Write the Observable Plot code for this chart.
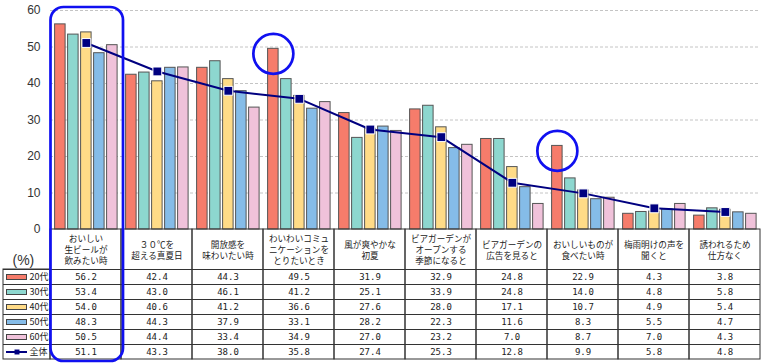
<!DOCTYPE html>
<html><head><meta charset="utf-8">
<script src="https://cdn.jsdelivr.net/npm/d3@7"></script>
<script src="https://cdn.jsdelivr.net/npm/@observablehq/plot@0.6"></script>
<style>body{margin:0;background:#fff} #chart{width:764px;height:364px}</style>
</head><body><div id="chart"></div>
<script>
const categories = ["おいしい\n生ビールが\n飲みたい時", "３０℃を\n超える真夏日", "開放感を\n味わいたい時", "わいわいコミュ\nニケーションを\nとりたいとき", "風が爽やかな\n初夏", "ビアガーデンが\nオープンする\n季節になると", "ビアガーデンの\n広告を見ると", "おいしいものが\n食べたい時", "梅雨明けの声を\n聞くと", "誘われるため\n仕方なく"];
const seriesNames = ["20代","30代","40代","50代","60代"];
const v20 = [56.2,42.4,44.3,49.5,31.9,32.9,24.8,22.9,4.3,3.8];
const v30 = [53.4,43.0,46.1,41.2,25.1,33.9,24.8,14.0,4.8,5.8];
const v40 = [54.0,40.6,41.2,36.6,27.6,28.0,17.1,10.7,4.9,5.4];
const v50 = [48.3,44.3,37.9,33.1,28.2,22.3,11.6,8.3,5.5,4.7];
const v60 = [50.5,44.4,33.4,34.9,27.0,23.2,7.0,8.7,7.0,4.3];
const vAll = [51.1,43.3,38.0,35.8,27.4,25.3,12.8,9.9,5.8,4.8];
const totalName = "全体";
const yTicks = [0,10,20,30,40,50,60];
const highlightColumn = 0;
const highlightBars = [[3,0],[7,0]]; // [category index, series index]

const colors = ["#f67c6b","#8dd7cf","#ffdb87","#85bce8","#f0c2da"];
const navy = "#000080", blue = "#1010f0";
const seriesValues = [v20,v30,v40,v50,v60];
const BW = 71, barW = 10.5, step = 13, off = 4.6;
const rows = (vals) => categories.map((c,j)=>({c, v: vals[j]}));
const zero = () => 0;

const marks = [];
marks.push(Plot.ruleY(yTicks.filter(t=>t>0), {stroke:"#c4c4c4", strokeDasharray:"3,2"}));
seriesValues.forEach((vals,i)=>{
  marks.push(Plot.barY(rows(vals), {x:"c", y:"v", fill: colors[i], stroke:"#555", strokeWidth:1,
    insetLeft: off+step*i, insetRight: BW-off-step*i-barW}));
});
const lineDx = off + 2*step + barW/2 - BW/2;
marks.push(Plot.line(rows(vAll), {x:"c", y:"v", stroke:navy, strokeWidth:2, dx: lineDx}));
marks.push(Plot.dot(rows(vAll), {x:"c", y:"v", symbol:"square", r:5, fill:navy, stroke:"#fff", strokeWidth:1, dx: lineDx}));

// table grid
marks.push(Plot.barY(categories, {x:d=>d, y1:zero, y2:zero, insetBottom:-130, fill:"none", stroke:"#333"}));
marks.push(Plot.barY([categories[0]], {x:d=>d, y1:zero, y2:zero, insetTop:40, insetBottom:-130, insetLeft:-47, insetRight:BW, fill:"none", stroke:"#333"}));
[40,55,70,85,100,115].forEach(dy=>marks.push(Plot.ruleY([0], {dy, stroke:"#333", insetLeft:-47})));
// header text
marks.push(Plot.text(categories, {x:d=>d, y:zero, text:d=>d, dy:20, fontSize:8.6, lineHeight:1.3, fill:"#222", fontFamily:"Noto Sans CJK JP"}));
// values
seriesValues.concat([vAll]).forEach((vals,i)=>{
  marks.push(Plot.text(rows(vals), {x:"c", y:zero, text:d=>d.v.toFixed(1), dy:47.5+15*i, fontSize:9, fill:"#222", fontFamily:"DejaVu Sans Mono"}));
});
// legend column
seriesNames.concat([totalName]).forEach((name,i)=>{
  const dy = 47.5+15*i;
  if (i < seriesNames.length) {
    marks.push(Plot.ruleY([0], {dy, stroke:"#444", strokeWidth:6, insetLeft:-44, insetRight:733}));
    marks.push(Plot.ruleY([0], {dy, stroke:colors[i], strokeWidth:4, insetLeft:-43, insetRight:734}));
  } else {
    marks.push(Plot.ruleY([0], {dy, stroke:navy, strokeWidth:2, insetLeft:-44, insetRight:733}));
    marks.push(Plot.dot([0], {y:d=>d, frameAnchor:"left", dx:-33.5, dy, symbol:"square", r:2.8, fill:navy}));
  }
  marks.push(Plot.text([name], {y:zero, frameAnchor:"left", dx:-21, dy, text:d=>d, textAnchor:"start", fontSize:9, fill:"#222", fontFamily:"Noto Sans CJK JP"}));
});
marks.push(Plot.text(["(%)"], {y:zero, frameAnchor:"left", dx:-38, dy:31, text:d=>d, textAnchor:"start", fontSize:14, fill:"#333"}));

// annotations
marks.push(Plot.barY([categories[highlightColumn]], {x:d=>d, y1:()=>yTicks[yTicks.length-1], y2:zero, insetTop:-3, insetBottom:-132, insetLeft:0.5, insetRight:-2, rx:13, fill:"none", stroke:blue, strokeWidth:2.7}));
marks.push(Plot.dot(highlightBars.map(([j,k])=>({c:categories[j], v:seriesValues[k][j], k})), {x:"c", y:"v", r:20, fill:"none", stroke:blue, strokeWidth:2.7, dx: off + barW/2 - BW/2, dy:5}));

const plot = Plot.plot({
  width:764, height:364, marginTop:10, marginBottom:135, marginLeft:50, marginRight:4,
  x:{domain:categories, padding:0, axis:null},
  y:{domain:[0,60], ticks:yTicks, tickSize:0, tickPadding:10, label:null},
  style:{fontFamily:"Liberation Sans, Arial, sans-serif", fontSize:"12px", color:"#333", background:"#fff"},
  marks
});
document.getElementById("chart").appendChild(plot);
</script></body></html>
